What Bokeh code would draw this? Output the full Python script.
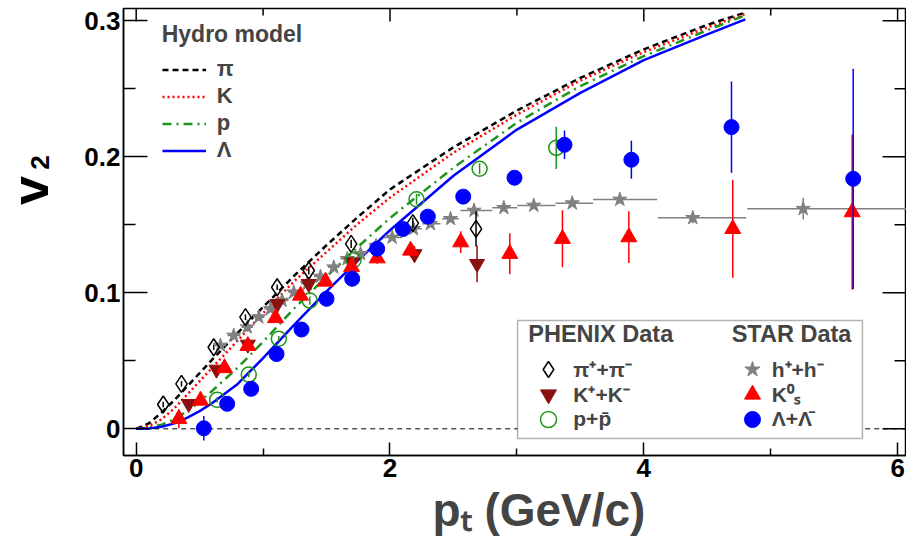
import numpy as np
from bokeh.plotting import figure
from bokeh.layouts import row
from bokeh.core.properties import value
from bokeh.models import (Range1d, FixedTicker, NumeralTickFormatter,
                          Legend, LegendItem, BoxAnnotation, Title)
from bokeh.embed import file_html
from bokeh.resources import INLINE

# ---------------- data ----------------
# hydro model curves
hydro_pt = [0, 0.1, 0.2, 0.3, 0.4, 0.5, 0.6, 0.8, 1.0, 1.25, 1.5, 1.75, 2.0, 2.5, 3.0, 3.5, 4.0, 4.5, 4.8]
hydro_pi = [0, 0.004, 0.012, 0.021, 0.031, 0.041, 0.051, 0.0705, 0.0895, 0.113, 0.135, 0.156, 0.176, 0.207, 0.234, 0.258, 0.279, 0.297, 0.306]
hydro_k = [0, 0.002, 0.007, 0.015, 0.025, 0.035, 0.045, 0.065, 0.085, 0.109, 0.130, 0.151, 0.170, 0.203, 0.231, 0.256, 0.277, 0.295, 0.305]
hydro_p = [0, 0.001, 0.003, 0.007, 0.013, 0.020, 0.028, 0.045, 0.064, 0.089, 0.112, 0.134, 0.155, 0.192, 0.225, 0.252, 0.274, 0.293, 0.304]
hydro_lam = [0, 0.0003, 0.0015, 0.004, 0.008, 0.013, 0.019, 0.033, 0.052, 0.077, 0.101, 0.124, 0.146, 0.186, 0.220, 0.247, 0.271, 0.290, 0.301]

# PHENIX pi+ + pi-
pi_pt = [0.213, 0.357, 0.611, 0.861, 1.111, 1.360, 1.694, 2.180, 2.678]
pi_v2 = [0.0179, 0.0331, 0.060, 0.0821, 0.1041, 0.1164, 0.136, 0.1512, 0.147]
pi_err = [0.002, 0.002, 0.002, 0.002, 0.002, 0.003, 0.003, 0.004, 0.013]

# PHENIX K+ + K-
kch_pt = [0.414, 0.633, 0.880, 1.113, 1.360, 1.702, 2.193, 2.686]
kch_v2 = [0.0184, 0.0436, 0.062, 0.0919, 0.1066, 0.1225, 0.1285, 0.1213]
kch_err = [0.002, 0.002, 0.002, 0.003, 0.003, 0.004, 0.006, 0.0135]

# PHENIX p + pbar
ppb_pt = [0.638, 0.887, 1.124, 1.368, 1.712, 2.209, 2.706, 3.310]
ppb_v2 = [0.0213, 0.0399, 0.0662, 0.0943, 0.124, 0.1688, 0.1912, 0.2066]
ppb_err = [0.002, 0.002, 0.002, 0.003, 0.003, 0.004, 0.004, 0.0155]

# STAR h+ + h-
h_pt = [0.664, 0.769, 0.875, 0.966, 1.058, 1.150, 1.242, 1.348, 1.452, 1.557, 1.663, 1.768, 1.89,
        2.017, 2.185, 2.319, 2.477, 2.662, 2.897, 3.133, 3.436, 3.811, 4.386, 5.256]
h_v2 = [0.0613, 0.0686, 0.0747, 0.0821, 0.0882, 0.0943, 0.1004, 0.1066, 0.112, 0.1188, 0.125, 0.1287, 0.1345,
        0.1407, 0.147, 0.1507, 0.1544, 0.1605, 0.1625, 0.1642, 0.1659, 0.1686, 0.1551, 0.1618]
h_err = [0.001] * 13 + [0.002, 0.002, 0.002, 0.002, 0.002, 0.002, 0.002, 0.002, 0.003, 0.004, 0.008]
h_lo = [0.62, 0.72, 0.83, 0.92, 1.01, 1.10, 1.20, 1.30, 1.40, 1.51, 1.61, 1.72, 1.84,
        1.951, 2.10, 2.254, 2.411, 2.556, 2.806, 3.003, 3.304, 3.601, 4.110, 4.815]
h_hi = [0.71, 0.82, 0.92, 1.01, 1.10, 1.20, 1.29, 1.39, 1.50, 1.60, 1.71, 1.81, 1.94,
        2.096, 2.25, 2.398, 2.542, 2.806, 3.003, 3.304, 3.601, 4.106, 4.807, 6.1]

# STAR K0s
k0s_pt = [0.336, 0.507, 0.696, 0.880, 1.098, 1.295, 1.492, 1.697, 1.899, 2.162, 2.557, 2.944, 3.359, 3.882, 4.701, 5.642]
k0s_v2 = [0.0074, 0.0208, 0.0447, 0.061, 0.0815, 0.098, 0.1083, 0.119, 0.1254, 0.1311, 0.1372, 0.1287, 0.1397, 0.1409, 0.147, 0.1593]
k0s_err = [0.007, 0.003, 0.003, 0.003, 0.003, 0.003, 0.003, 0.003, 0.004, 0.005, 0.008, 0.015, 0.021, 0.019, 0.036, 0.057]

# STAR Lambda + anti-Lambda
lam_pt = [0.533, 0.717, 0.906, 1.106, 1.303, 1.500, 1.702, 1.899, 2.102, 2.298, 2.577, 2.981, 3.375, 3.902, 4.691, 5.65]
lam_v2 = [0.0004, 0.0184, 0.0294, 0.055, 0.073, 0.0956, 0.1103, 0.1324, 0.1469, 0.156, 0.1707, 0.1846, 0.2088, 0.1978, 0.2218, 0.1838]
lam_err = [0.009, 0.003, 0.003, 0.003, 0.003, 0.003, 0.003, 0.003, 0.003, 0.003, 0.004, 0.005, 0.0105, 0.014, 0.0335, 0.081]

zero_x = [0, 6.1]
zero_y = [0, 0]

x_major = [0, 2, 4, 6]
x_minor = [1, 3, 5]
y_major = [0, 0.1, 0.2, 0.3]
y_minor = [0.05, 0.15, 0.25]

# ---------------- layout constants ----------------
FONT = "Liberation Sans"
GREEN = "#1e961e"
DARKRED = "#8b1010"
W_TOTAL, H_TOTAL = 906, 546
W_LAB = 60                      # strip holding the y-axis title
BORDER_L, BORDER_T, BORDER_B = 123, 8, 91
X0, X1 = -0.1, 6.07
Y0, Y1 = -0.0196, 0.309
frame_w = W_TOTAL - BORDER_L
frame_h = H_TOTAL - BORDER_T - BORDER_B
xpx = frame_w / (X1 - X0)       # pixels per data unit
ypx = frame_h / (Y1 - Y0)
y_shared = Range1d(Y0, Y1)

# ---------------- y title strip (shares the v2 scale of the main plot) ----------------
fy = figure(width=W_LAB, height=H_TOTAL, x_range=Range1d(0, W_LAB), y_range=y_shared,
            output_backend="svg", toolbar_location=None, x_axis_location=None, y_axis_location=None,
            title=None, min_border=0, min_border_left=0, min_border_right=0,
            min_border_top=BORDER_T, min_border_bottom=BORDER_B)
fy.outline_line_color = None
fy.grid.visible = False
ttl_kw = dict(text_font=value(FONT), text_font_style="bold", text_color="black",
              text_align="center", text_baseline="middle", angle=90, angle_units="deg")
fy.text(x=[29.5], y=[0.1752], text=["v"], text_font_size="52px", **ttl_kw)
fy.text(x=[39.5], y=[0.1958], text=["2"], text_font_size="26px", **ttl_kw)

# ---------------- main figure ----------------
p = figure(width=W_TOTAL - W_LAB, height=H_TOTAL, x_range=Range1d(X0, X1), y_range=y_shared,
           output_backend="svg", toolbar_location=None,
           min_border_left=BORDER_L - W_LAB, min_border_right=0, min_border_top=BORDER_T,
           min_border_bottom=BORDER_B)
p.xgrid.visible = False
p.ygrid.visible = False
p.outline_line_color = "black"
p.outline_line_width = 1.5


def style_axis(ax, major_in, minor_in):
    ax.axis_line_color = "black"
    ax.axis_line_width = 1.5
    ax.major_tick_line_color = "black"
    ax.minor_tick_line_color = "black"
    ax.major_tick_line_width = 1.5
    ax.minor_tick_line_width = 1.5
    ax.major_tick_in = major_in
    ax.major_tick_out = 0
    ax.minor_tick_in = minor_in
    ax.minor_tick_out = 0
    ax.major_label_text_font = FONT
    ax.major_label_text_font_style = "bold"
    ax.major_label_text_font_size = "26px"
    ax.major_label_text_color = "black"
    ax.major_label_standoff = 3


xa = p.xaxis[0]
ya = p.yaxis[0]
xa.ticker = FixedTicker(ticks=x_major, minor_ticks=x_minor)
ya.ticker = FixedTicker(ticks=y_major, minor_ticks=y_minor)
ya.formatter = NumeralTickFormatter(format="0.[0]")
style_axis(xa, 13, 7)
style_axis(ya, 24, 12)

# mirrored ticks on top and right frame edges
tick_kw = dict(line_color="black", line_width=1.5)
p.segment(x0=x_major, y0=[Y1] * len(x_major), x1=x_major, y1=[Y1 - 13 / ypx] * len(x_major), **tick_kw)
p.segment(x0=x_minor, y0=[Y1] * len(x_minor), x1=x_minor, y1=[Y1 - 7 / ypx] * len(x_minor), **tick_kw)
p.segment(x0=[X1] * len(y_major), y0=y_major, x1=[X1 - 24 / xpx] * len(y_major), y1=y_major, **tick_kw)
p.segment(x0=[X1] * len(y_minor), y0=y_minor, x1=[X1 - 12 / xpx] * len(y_minor), y1=y_minor, **tick_kw)

# x-axis title
p.add_layout(Title(text="pₜ (GeV/c)", align="left", offset=309, text_font=FONT,
                   text_font_style="bold", text_font_size="46px", standoff=4), "below")

# hydro curves
r_pi_line = p.line(hydro_pt, hydro_pi, line_color="black", line_width=2.5, line_dash="6 4")
r_k_line = p.line(hydro_pt, hydro_k, line_color="red", line_width=2.5, line_dash="2 3")
r_p_line = p.line(hydro_pt, hydro_p, line_color=GREEN, line_width=2.5, line_dash="9 5 2 5")
r_l_line = p.line(hydro_pt, hydro_lam, line_color="blue", line_width=2.5)

p.line(zero_x, zero_y, line_color="black", line_width=1, line_dash="5 4")


def vbars(x, y, e, color):
    x = np.array(x); y = np.array(y); e = np.array(e)
    p.segment(x0=x, y0=y - e, x1=x, y1=y + e, line_color=color, line_width=1.5)


# STAR h+h-
p.segment(x0=h_lo, y0=h_v2, x1=h_hi, y1=h_v2, line_color="gray", line_width=1.5)
vbars(h_pt, h_v2, h_err, "gray")
r_h = p.scatter(h_pt, h_v2, marker="star", size=15, fill_color="gray", line_color="gray")

# PHENIX
vbars(pi_pt, pi_v2, pi_err, "black")
r_pi = p.scatter(pi_pt, pi_v2, marker="diamond", size=17, fill_color=None, line_color="black", line_width=1.5)
vbars(kch_pt, kch_v2, kch_err, DARKRED)
r_kch = p.scatter(kch_pt, kch_v2, marker="inverted_triangle", size=15, fill_color=DARKRED, line_color=DARKRED)
vbars(ppb_pt, ppb_v2, ppb_err, GREEN)
r_ppb = p.scatter(ppb_pt, ppb_v2, marker="circle", size=15, fill_color=None, line_color=GREEN, line_width=1.5)

# STAR identified
vbars(k0s_pt, k0s_v2, k0s_err, "red")
r_k0s = p.scatter(k0s_pt, k0s_v2, marker="triangle", size=16, fill_color="red", line_color="red")
vbars(lam_pt, lam_v2, lam_err, "blue")
r_lam = p.scatter(lam_pt, lam_v2, marker="circle", size=15, fill_color="blue", line_color="blue")

# ---------------- legends ----------------
hydro_leg = Legend(items=[LegendItem(label="π", renderers=[r_pi_line]),
                          LegendItem(label="K", renderers=[r_k_line]),
                          LegendItem(label="p", renderers=[r_p_line]),
                          LegendItem(label="Λ", renderers=[r_l_line])],
                   location=(38.7, 291.5), title="Hydro model",
                   title_text_font=FONT, title_text_font_style="bold", title_text_font_size="23px",
                   title_standoff=8,
                   label_text_font=FONT, label_text_font_style="bold", label_text_font_size="22px",
                   glyph_width=44, glyph_height=27, label_height=27, spacing=0, padding=0, margin=0,
                   label_standoff=11, border_line_alpha=0, background_fill_alpha=0)
p.add_layout(hydro_leg)

box = BoxAnnotation(left=3.005, right=5.723, bottom=-0.0071, top=0.0796,
                    fill_color="white", fill_alpha=1, line_color="black", line_width=1.5)
p.add_layout(box)

common = dict(title_text_font=FONT, title_text_font_style="bold", title_text_font_size="23.5px",
              title_standoff=0,
              label_text_font=FONT, label_text_font_style="bold", label_text_font_size="21px",
              glyph_width=40, glyph_height=42, label_height=24, spacing=0, padding=0, margin=0,
              border_line_alpha=0, background_fill_alpha=0)

FRAME_BOTTOM = H_TOTAL - BORDER_B
row_centres = [369, 394, 419]
phenix_items = [("π⁺+π⁻", r_pi), ("K⁺+K⁻", r_kch), ("p+p\u0304", r_ppb)]
star_items = [("h⁺+h⁻", r_h), ("K⁰ₛ", r_k0s), ("Λ+Λ\u0304", r_lam)]
for col_x, title, items, standoff in [(405.3, "PHENIX Data", phenix_items, 5),
                                      (608.7, "STAR Data", star_items, 0)]:
    for i, (lab, rend) in enumerate(items):
        vy = FRAME_BOTTOM - (row_centres[i] + 21)
        kw = dict(common)
        if i == 0:
            kw["title"] = title
        leg = Legend(items=[LegendItem(label=lab, renderers=[rend])], location=(col_x, vy),
                     label_standoff=standoff, **kw)
        p.add_layout(leg)

layout = row(fy, p)
open("out.html", "w").write(file_html(layout, INLINE))
